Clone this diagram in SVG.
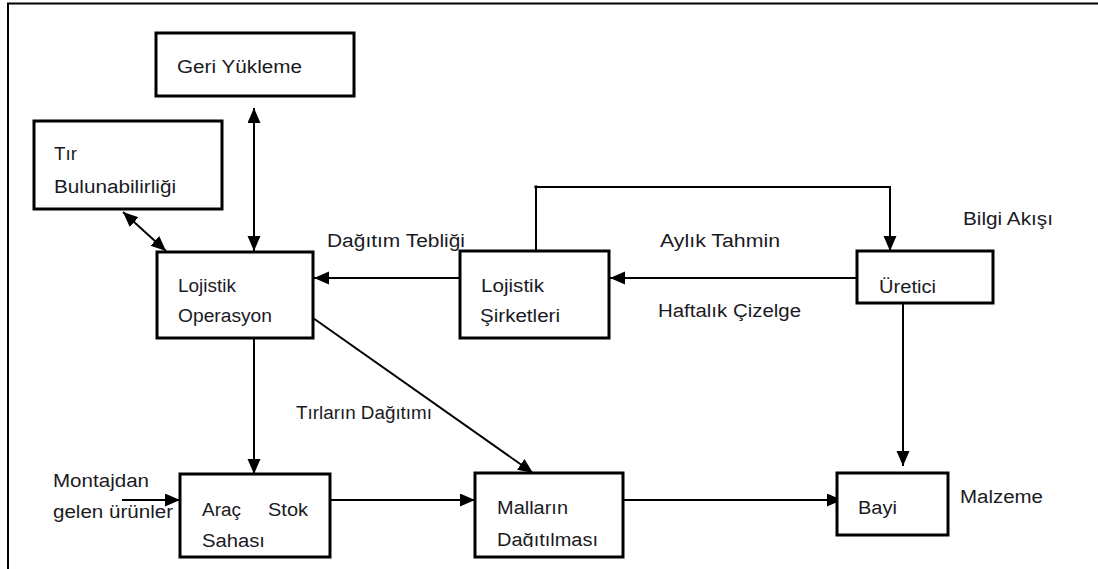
<svg xmlns="http://www.w3.org/2000/svg" width="1098" height="569" viewBox="0 0 1098 569">
  <style>
    .box { fill: #ffffff; stroke: #000000; stroke-width: 3; }
    .edge { fill: none; stroke: #000000; stroke-width: 2; }
    .frame { fill: none; stroke: #000000; stroke-width: 2; }
    text { font-family: "Liberation Sans", Arial, sans-serif; font-size: 18px; fill: #1a1a24; }
  </style>
  <defs>
    <marker id="head" markerUnits="userSpaceOnUse" markerWidth="16" markerHeight="14" refX="15" refY="6.5" orient="auto-start-reverse">
      <path d="M0,0 L15,6.5 L0,13 Z" fill="#000000"/>
    </marker>
    <clipPath id="clipArac"><rect x="181" y="475" width="148" height="73"/></clipPath>
    <clipPath id="clipMal"><rect x="476" y="474" width="146" height="73"/></clipPath>
  </defs>

  <rect width="1098" height="569" fill="#ffffff"/>
  <!-- page frame (top and left edges) -->
  <path class="frame" d="M8,569 L8,3.5 L1098,3.5"/>

  <g id="connectors">
    <line class="edge" x1="254" y1="108" x2="254" y2="251" marker-start="url(#head)" marker-end="url(#head)"/>
    <line class="edge" x1="123" y1="212" x2="166" y2="251" marker-start="url(#head)" marker-end="url(#head)"/>
    <line class="edge" x1="460" y1="278" x2="314" y2="278" marker-end="url(#head)"/>
    <line class="edge" x1="857" y1="278" x2="610" y2="278" marker-end="url(#head)"/>
    <path class="edge" d="M536,251 L536,187 L890,187 L890,251" marker-end="url(#head)"/>
    <circle cx="536" cy="187" r="1.8" fill="#000000"/>
    <line class="edge" x1="903" y1="298" x2="903" y2="466" marker-end="url(#head)"/>
    <line class="edge" x1="254" y1="338" x2="254" y2="474" marker-end="url(#head)"/>
    <line class="edge" x1="313" y1="318" x2="533" y2="473" marker-end="url(#head)"/>
    <line class="edge" x1="122" y1="500" x2="180" y2="500" marker-end="url(#head)"/>
    <line class="edge" x1="330" y1="500" x2="475" y2="500" marker-end="url(#head)"/>
    <line class="edge" x1="623" y1="500" x2="842" y2="500" marker-end="url(#head)"/>
  </g>

  <g id="geri-yukleme">
    <rect class="box" x="156" y="33" width="198" height="63"/>
    <text x="177" y="73" textLength="125" lengthAdjust="spacingAndGlyphs">Geri Yükleme</text>
  </g>

  <g id="tir-bulunabilirligi">
    <rect class="box" x="34" y="121" width="188" height="88"/>
    <text x="54" y="160" textLength="23" lengthAdjust="spacingAndGlyphs">Tır</text>
    <text x="54" y="193" textLength="122" lengthAdjust="spacingAndGlyphs">Bulunabilirliği</text>
  </g>

  <g id="lojistik-operasyon">
    <rect class="box" x="157" y="252" width="156" height="86"/>
    <text x="178" y="292" textLength="58" lengthAdjust="spacingAndGlyphs">Lojistik</text>
    <text x="178" y="322" textLength="94" lengthAdjust="spacingAndGlyphs">Operasyon</text>
  </g>

  <g id="lojistik-sirketleri">
    <rect class="box" x="460" y="251" width="149" height="87"/>
    <text x="481" y="292" textLength="63" lengthAdjust="spacingAndGlyphs">Lojistik</text>
    <text x="480" y="322" textLength="80" lengthAdjust="spacingAndGlyphs">Şirketleri</text>
  </g>

  <g id="uretici">
    <rect class="box" x="857" y="251" width="136" height="52"/>
    <text x="879" y="293" textLength="57" lengthAdjust="spacingAndGlyphs">Üretici</text>
  </g>

  <g id="arac-stok-sahasi">
    <rect class="box" x="180" y="474" width="150" height="83"/>
    <g clip-path="url(#clipArac)">
      <text x="202" y="516" textLength="39" lengthAdjust="spacingAndGlyphs">Araç</text>
      <text x="268" y="516" textLength="40" lengthAdjust="spacingAndGlyphs">Stok</text>
      <text x="202" y="547" textLength="63" lengthAdjust="spacingAndGlyphs">Sahası</text>
    </g>
  </g>

  <g id="mallarin-dagitilmasi">
    <rect class="box" x="475" y="473" width="148" height="84"/>
    <g clip-path="url(#clipMal)">
      <text x="497" y="514" textLength="71" lengthAdjust="spacingAndGlyphs">Malların</text>
      <text x="497" y="546" textLength="101" lengthAdjust="spacingAndGlyphs">Dağıtılması</text>
    </g>
  </g>

  <g id="bayi">
    <rect class="box" x="837" y="473" width="111" height="62"/>
    <text x="858" y="514" textLength="39" lengthAdjust="spacingAndGlyphs">Bayi</text>
  </g>

  <g id="labels">
    <text x="327" y="247" textLength="138" lengthAdjust="spacingAndGlyphs">Dağıtım Tebliği</text>
    <text x="660" y="247" textLength="120" lengthAdjust="spacingAndGlyphs">Aylık Tahmin</text>
    <text x="658" y="317" textLength="143" lengthAdjust="spacingAndGlyphs">Haftalık Çizelge</text>
    <text x="963" y="225" textLength="90" lengthAdjust="spacingAndGlyphs">Bilgi Akışı</text>
    <text x="296" y="419" textLength="136" lengthAdjust="spacingAndGlyphs">Tırların Dağıtımı</text>
    <text x="53" y="487" textLength="96" lengthAdjust="spacingAndGlyphs">Montajdan</text>
    <text x="53" y="518" textLength="120" lengthAdjust="spacingAndGlyphs">gelen ürünler</text>
    <text x="960" y="503" textLength="83" lengthAdjust="spacingAndGlyphs">Malzeme</text>
  </g>
</svg>
